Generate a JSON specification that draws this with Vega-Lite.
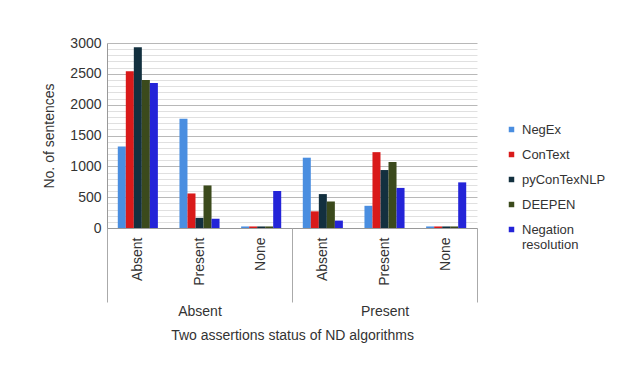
{
  "$schema": "https://vega.github.io/schema/vega-lite/v6.json",
  "width": 370,
  "height": 185,
  "autosize": "none",
  "padding": {"left": 107, "top": 43, "right": 158, "bottom": 140},
  "background": "white",
  "config": {
    "view": {"stroke": null},
    "font": "Liberation Sans",
    "axis": {"labelColor": "#333", "titleColor": "#333", "titleFontWeight": "normal", "labelFont": "Liberation Sans", "titleFont": "Liberation Sans"},
    "legend": {"labelColor": "#333", "labelFont": "Liberation Sans"}
  },
  "data": {
    "values": [
      {"outer": "Absent", "key": "Absent|Absent", "series": "NegEx", "value": 1320},
      {"outer": "Absent", "key": "Absent|Absent", "series": "ConText", "value": 2540},
      {"outer": "Absent", "key": "Absent|Absent", "series": "pyConTexNLP", "value": 2930},
      {"outer": "Absent", "key": "Absent|Absent", "series": "DEEPEN", "value": 2400},
      {"outer": "Absent", "key": "Absent|Absent", "series": "Negation resolution", "value": 2350},
      {"outer": "Absent", "key": "Absent|Present", "series": "NegEx", "value": 1770},
      {"outer": "Absent", "key": "Absent|Present", "series": "ConText", "value": 560},
      {"outer": "Absent", "key": "Absent|Present", "series": "pyConTexNLP", "value": 165},
      {"outer": "Absent", "key": "Absent|Present", "series": "DEEPEN", "value": 690},
      {"outer": "Absent", "key": "Absent|Present", "series": "Negation resolution", "value": 150},
      {"outer": "Absent", "key": "Absent|None", "series": "NegEx", "value": 25},
      {"outer": "Absent", "key": "Absent|None", "series": "ConText", "value": 25},
      {"outer": "Absent", "key": "Absent|None", "series": "pyConTexNLP", "value": 25},
      {"outer": "Absent", "key": "Absent|None", "series": "DEEPEN", "value": 25},
      {"outer": "Absent", "key": "Absent|None", "series": "Negation resolution", "value": 600},
      {"outer": "Present", "key": "Present|Absent", "series": "NegEx", "value": 1140},
      {"outer": "Present", "key": "Present|Absent", "series": "ConText", "value": 270},
      {"outer": "Present", "key": "Present|Absent", "series": "pyConTexNLP", "value": 550},
      {"outer": "Present", "key": "Present|Absent", "series": "DEEPEN", "value": 430},
      {"outer": "Present", "key": "Present|Absent", "series": "Negation resolution", "value": 120},
      {"outer": "Present", "key": "Present|Present", "series": "NegEx", "value": 360},
      {"outer": "Present", "key": "Present|Present", "series": "ConText", "value": 1230},
      {"outer": "Present", "key": "Present|Present", "series": "pyConTexNLP", "value": 940},
      {"outer": "Present", "key": "Present|Present", "series": "DEEPEN", "value": 1070},
      {"outer": "Present", "key": "Present|Present", "series": "Negation resolution", "value": 650},
      {"outer": "Present", "key": "Present|None", "series": "NegEx", "value": 25},
      {"outer": "Present", "key": "Present|None", "series": "ConText", "value": 25},
      {"outer": "Present", "key": "Present|None", "series": "pyConTexNLP", "value": 25},
      {"outer": "Present", "key": "Present|None", "series": "DEEPEN", "value": 25},
      {"outer": "Present", "key": "Present|None", "series": "Negation resolution", "value": 740}
    ]
  },
  "layer": [
    {
      "mark": {"type": "bar"},
      "encoding": {
        "x": {
          "field": "key", "type": "nominal",
          "sort": ["Absent|Absent", "Absent|Present", "Absent|None", "Present|Absent", "Present|Present", "Present|None"],
          "scale": {"paddingInner": 0.35, "paddingOuter": 0.175},
          "axis": {"title": null, "orient": "bottom", "labelAngle": -90, "labelExpr": "split(datum.label, '|')[1]", "ticks": false, "domainColor": "#999", "labelPadding": 9, "labelFontSize": 14, "grid": false}
        },
        "xOffset": {
          "field": "series", "type": "nominal",
          "sort": ["NegEx", "ConText", "pyConTexNLP", "DEEPEN", "Negation resolution"],
          "scale": {"paddingInner": 0, "paddingOuter": 0}
        },
        "y": {
          "field": "value", "type": "quantitative",
          "scale": {"domain": [0, 3000], "nice": false},
          "axis": {
            "title": "No. of sentences",
            "values": [0,100,200,300,400,500,600,700,800,900,1000,1100,1200,1300,1400,1500,1600,1700,1800,1900,2000,2100,2200,2300,2400,2500,2600,2700,2800,2900,3000],
            "labelExpr": "datum.value % 500 === 0 ? datum.label : ''",
            "format": "d",
            "ticks": false,
            "gridColor": {"condition": {"test": "datum.value % 500 === 0", "value": "#b8b8b8"}, "value": "#e0e0e0"},
            "domainColor": "#999",
            "labelFontSize": 14,
            "titleFontSize": 14,
            "labelPadding": 6,
            "titlePadding": 13
          }
        },
        "color": {
          "field": "series", "type": "nominal",
          "scale": {"domain": ["NegEx", "ConText", "pyConTexNLP", "DEEPEN", "Negation resolution"], "range": ["#4a8ee0", "#d91a1a", "#13303f", "#3b4a1c", "#2424d8"]},
          "legend": {
            "title": null, "orient": "none", "legendX": 398, "legendY": 80,
            "symbolType": "square", "symbolSize": 30, "labelFontSize": 13, "rowPadding": 11, "labelOffset": 4,
            "labelExpr": "datum.label == 'Negation resolution' ? ['Negation', 'resolution'] : datum.label"
          }
        }
      }
    },
    {
      "mark": {"type": "point", "opacity": 0},
      "encoding": {
        "x": {
          "field": "outer", "type": "nominal",
          "sort": ["Absent", "Present"],
          "scale": {"paddingInner": 0, "paddingOuter": 0},
          "axis": {"orient": "bottom", "title": "Two assertions status of ND algorithms", "labelAngle": 0, "domain": false, "ticks": true, "tickBand": "extent", "tickSize": 74, "tickColor": "#aaa", "labelPadding": 2, "labelFontSize": 14, "titleFontSize": 14, "titlePadding": 10, "grid": false}
        }
      }
    }
  ],
  "resolve": {"scale": {"x": "independent"}, "axis": {"x": "independent"}}
}
